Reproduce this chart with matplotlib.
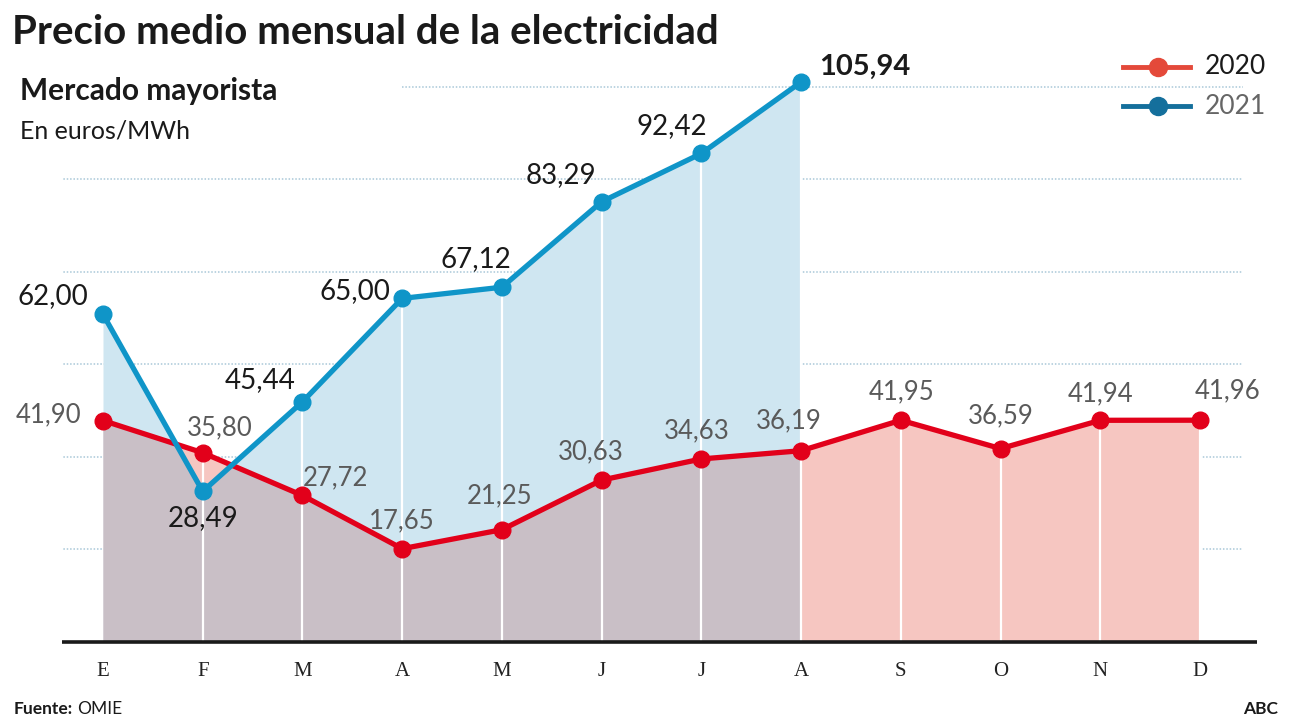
import matplotlib
matplotlib.use("Agg")
import matplotlib.pyplot as plt
from matplotlib.lines import Line2D
import numpy as np

# ---- data ----
months = ["E", "F", "M", "A", "M", "J", "J", "A", "S", "O", "N", "D"]
prices_2020 = [41.90, 35.80, 27.72, 17.65, 21.25, 30.63, 34.63, 36.19, 41.95, 36.59, 41.94, 41.96]
prices_2021 = [62.00, 28.49, 45.44, 65.00, 67.12, 83.29, 92.42, 105.94]
labels_2020 = ["41,90", "35,80", "27,72", "17,65", "21,25", "30,63", "34,63", "36,19", "41,95", "36,59", "41,94", "41,96"]
labels_2021 = ["62,00", "28,49", "45,44", "65,00", "67,12", "83,29", "92,42", "105,94"]
grid_vals = [17.5, 35, 52.5, 70, 87.5, 105]
series_names = ["2020", "2021"]

# ---- style ----
FONT = "Lato"
C_RED = "#e2001a"
C_BLUE = "#0f95c8"
C_PINK = "#f6c6c1"
C_LBLUE = "#cfe6f1"
C_MAUVE = "#c9bfc6"
C_GRID = "#a9c8d8"

fig = plt.figure(figsize=(12.93, 7.28), dpi=100)
ax = fig.add_axes([62 / 1293, 86 / 728, 1195 / 1293, 582 / 728])
ax.set_xlim(-0.411, 11.571)
ax.set_ylim(0, 110.1)
ax.axis("off")

x20 = np.arange(len(prices_2020))
x21 = np.arange(len(prices_2021))
y20 = np.array(prices_2020)
y21 = np.array(prices_2021)

# gridlines
for g in grid_vals:
    xmin = 3 if g > 100 else -0.43
    ax.plot([xmin, 11.43], [g, g], color=C_GRID, lw=1.1, ls=(0, (1, 1.2)), zorder=1)

# fills
ax.fill_between(x20, 0, y20, color=C_PINK, lw=0, zorder=2)
poly21 = ax.fill_between(x21, 0, y21, color=C_LBLUE, lw=0, zorder=2.1)
mauve = ax.fill_between(x20, 0, y20, color=C_MAUVE, lw=0, zorder=2.2)
path21 = poly21.get_paths()[0]
mauve.set_clip_path(path21, ax.transData)

# white verticals
top = y20.copy()
top[: len(y21)] = np.maximum(y20[: len(y21)], y21)
ax.vlines(x20[1:], 0, top[1:], color="white", lw=1.6, zorder=2.5)

# baseline
ax.plot([-0.411, 11.571], [0, 0], color="#1a1a1a", lw=2.6, zorder=5, solid_capstyle="butt", clip_on=False)

# lines
ax.plot(x20, y20, color=C_RED, lw=3.8, marker="o", ms=12, zorder=6, solid_joinstyle="round")
ax.plot(x21, y21, color=C_BLUE, lw=3.8, marker="o", ms=12, zorder=7, solid_joinstyle="round")

# month labels
for i, m in enumerate(months):
    ax.text(i, -5.5, m, ha="center", va="center", fontsize=15, family="Liberation Serif", color="#222222")

# value labels (offsets in pixels)
off21 = [(-50, 18), (0, -27), (-42, 22), (-47, 7), (-26, 28), (-41, 27), (-30, 27), (64, 15)]
for i, (lab, o) in enumerate(zip(labels_2021, off21)):
    bold = i == len(labels_2021) - 1
    ax.annotate(lab, (x21[i], y21[i]), xytext=o, textcoords="offset pixels",
                ha="center", va="center", fontsize=21 if bold else 20,
                fontweight="bold" if bold else "normal", family=FONT, color="#1a1a1a", zorder=9)

off20 = [(-54, 6), (17, 25), (33, 18), (0, 28), (-2, 34), (-11, 28), (-5, 28), (-12, 30), (1, 28), (0, 33), (0, 26), (28, 29)]
for i, (lab, o) in enumerate(zip(labels_2020, off20)):
    ax.annotate(lab, (x20[i], y20[i]), xytext=o, textcoords="offset pixels",
                ha="center", va="center", fontsize=18.5, family=FONT, color="#5a5a5a", zorder=9)

# titles
fig.text(12 / 1293, 1 - 33 / 728, "Precio medio mensual de la electricidad", fontsize=29,
         fontweight="bold", family=FONT, color="#1a1a1a", ha="left", va="center")
fig.text(20 / 1293, 1 - 91 / 728, "Mercado mayorista", fontsize=21.5, fontweight="bold",
         family=FONT, color="#1a1a1a", ha="left", va="center")
fig.text(20 / 1293, 1 - 131 / 728, "En euros/MWh", fontsize=18, 
         family=FONT, color="#1a1a1a", ha="left", va="center")

# legend (manual)
leg_cols = ["#e4493a", "#146f9c"]
leg_txt = ["#1a1a1a", "#666666"]
for k, (name, lc, tc) in enumerate(zip(series_names, leg_cols, leg_txt)):
    yy = 1 - (67 + 39 * k) / 728
    fig.add_artist(Line2D([1123 / 1293, 1190 / 1293], [yy, yy], color=lc, lw=3.5, transform=fig.transFigure))
    fig.add_artist(Line2D([1158 / 1293], [yy], color=lc, marker="o", ms=13, transform=fig.transFigure))
    fig.text(1205 / 1293, yy, name, fontsize=19, family=FONT, color=tc, ha="left", va="center")

# footer
fig.text(14 / 1293, 1 - 709 / 728, "Fuente:", fontsize=12.5, fontweight="bold", family=FONT,
         color="#1a1a1a", ha="left", va="center")
fig.text(77 / 1293, 1 - 709 / 728, "OMIE", fontsize=12.5, family=FONT,
         color="#1a1a1a", ha="left", va="center")
fig.text(1278 / 1293, 1 - 709 / 728, "ABC", fontsize=12.5, fontweight="bold", family=FONT,
         color="#1a1a1a", ha="right", va="center")

fig.savefig("out.png", dpi=100, facecolor="white")
